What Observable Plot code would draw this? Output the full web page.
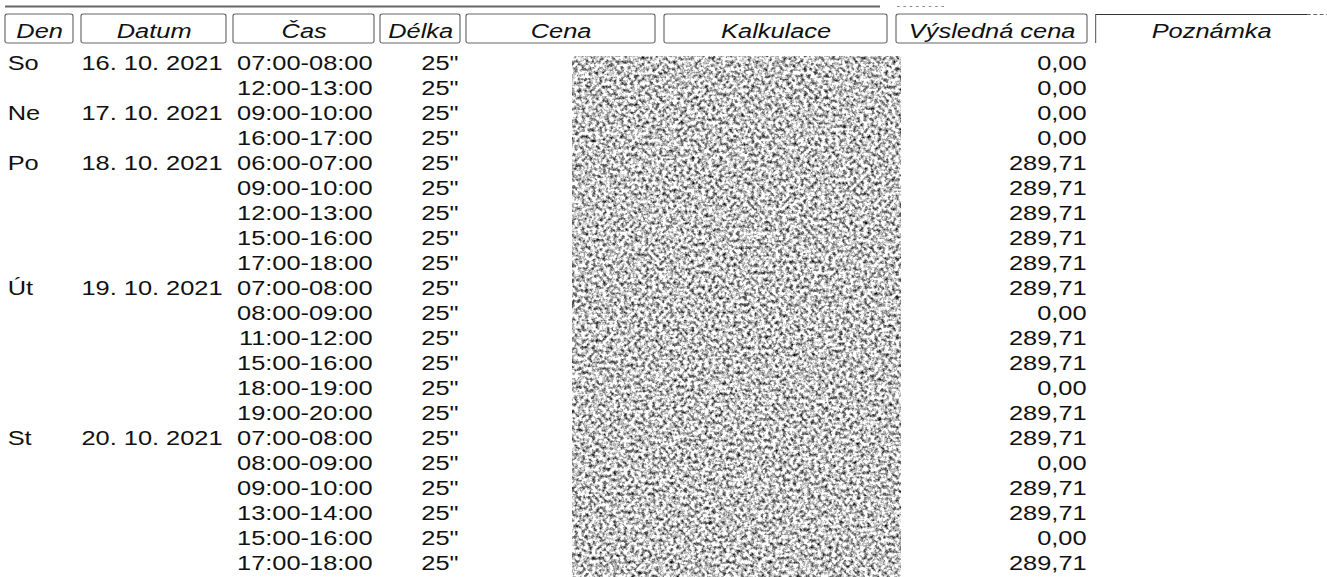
<!DOCTYPE html>
<html><head><meta charset="utf-8">
<script src="https://cdn.jsdelivr.net/npm/d3@7"></script>
<script src="https://cdn.jsdelivr.net/npm/@observablehq/plot@0.6"></script>
<style>html,body{margin:0;padding:0;background:#fff;overflow:hidden}</style>
</head><body><div id="chart"></div>
<script>
// ---- data ----
const headers = ["Den", "Datum", "Čas", "Délka", "Cena", "Kalkulace", "Výsledná cena", "Poznámka"];
const days = ["So", "Ne", "Po", "Út", "St"];
const dates = ["16. 10. 2021", "17. 10. 2021", "18. 10. 2021", "19. 10. 2021", "20. 10. 2021"];
const slotsPerDay = [2, 2, 5, 6, 6];
const times = ["07:00-08:00", "12:00-13:00", "09:00-10:00", "16:00-17:00",
  "06:00-07:00", "09:00-10:00", "12:00-13:00", "15:00-16:00", "17:00-18:00",
  "07:00-08:00", "08:00-09:00", "11:00-12:00", "15:00-16:00", "18:00-19:00", "19:00-20:00",
  "07:00-08:00", "08:00-09:00", "09:00-10:00", "13:00-14:00", "15:00-16:00", "17:00-18:00"];
const durations = ['25"', '25"', '25"', '25"', '25"', '25"', '25"', '25"', '25"', '25"', '25"',
  '25"', '25"', '25"', '25"', '25"', '25"', '25"', '25"', '25"', '25"'];
const finalPrices = ["0,00", "0,00", "0,00", "0,00",
  "289,71", "289,71", "289,71", "289,71", "289,71",
  "289,71", "0,00", "289,71", "289,71", "0,00", "289,71",
  "289,71", "0,00", "289,71", "289,71", "0,00", "289,71"];

// ---- layout (page units, horizontally stretched document) ----
const S = 1.27;                // horizontal stretch of the scanned document
const W = 1327 / S;
const colEdges = [[5, 73], [81, 226], [233, 374], [380, 460], [466, 655], [664, 887], [896, 1087], [1095, 1327]];
const FS = 20;
const HDR_Y = -1.26, BOX_TOP = -1.96, BOX_BOT = -0.8, TOP_RULE = -2.28;

const rows = [];
let r = 0;
days.forEach((d, i) => {
  for (let k = 0; k < slotsPerDay[i]; k++) {
    rows.push({row: r, day: k === 0 ? d : "", date: k === 0 ? dates[i] : "",
      time: times[r], dur: durations[r], price: finalPrices[r]});
    r++;
  }
});
const hdr = headers.map((h, i) => ({label: h, x1: colEdges[i][0], x2: colEdges[i][1]}));

const font = "Liberation Sans, Arial, Helvetica, sans-serif";
const body = {y: "row", fontSize: FS, fill: "#111", fontFamily: font};

const svg = Plot.plot({
  width: W, height: 577, margin: 0,
  x: {domain: [0, 1327], range: [0, W], axis: null},
  y: {domain: [0, 20], range: [63, 563], axis: null},
  style: {fontFamily: font, background: "white"},
  marks: [
    Plot.ruleY([TOP_RULE], {x1: 5, x2: 880, stroke: "#666", strokeWidth: 2}),
    Plot.ruleY([TOP_RULE], {x1: 897, x2: 945, stroke: "#888", strokeWidth: 1, strokeDasharray: "2,3"}),
    Plot.rect(hdr.slice(0, 7), {x1: "x1", x2: "x2", y1: () => BOX_TOP, y2: () => BOX_BOT,
      fill: "none", stroke: "#666", strokeWidth: 0.9, rx: 2}),
    Plot.ruleY([BOX_TOP], {x1: 1095, x2: 1307, stroke: "#333", strokeWidth: 1}),
    Plot.ruleY([BOX_TOP], {x1: 1307, x2: 1327, stroke: "#666", strokeWidth: 1, strokeDasharray: "3,2"}),
    Plot.ruleX([1095], {y1: BOX_TOP, y2: BOX_BOT, stroke: "#666", strokeWidth: 0.9}),
    Plot.text(hdr, {x: d => (d.x1 + d.x2) / 2, y: () => HDR_Y,
      text: "label", fontStyle: "italic", fontSize: FS, fill: "#111", fontFamily: font}),
    Plot.text(rows, {...body, x: () => 7, text: "day", textAnchor: "start"}),
    Plot.text(rows, {...body, x: () => 222, text: "date", textAnchor: "end"}),
    Plot.text(rows, {...body, x: () => 372, text: "time", textAnchor: "end"}),
    Plot.text(rows, {...body, x: () => 458, text: "dur", textAnchor: "end"}),
    Plot.text(rows, {...body, x: () => 1086, text: "price", textAnchor: "end"}),
    Plot.rect([0], {x1: () => 572, x2: () => 901, y1: () => -0.28, y2: () => 20.6, fill: "#999"})
  ]
});

svg.setAttribute("preserveAspectRatio", "none");
svg.style.width = "1327px";
svg.style.height = "577px";
svg.style.maxWidth = "none";

const sel = d3.select(svg);
const defs = sel.insert("defs", ":first-child");
const f = defs.append("filter").attr("id", "noise").attr("x", 0).attr("y", 0)
  .attr("width", "100%").attr("height", "100%").attr("color-interpolation-filters", "sRGB");
f.append("feTurbulence").attr("type", "fractalNoise").attr("baseFrequency", "0.36 0.28")
  .attr("numOctaves", 3).attr("seed", 7);
f.append("feColorMatrix").attr("type", "matrix")
  .attr("values", "2.0 0 0 0 -0.22  2.0 0 0 0 -0.22  2.0 0 0 0 -0.22  0 0 0 0 1");
f.append("feGaussianBlur").attr("stdDeviation", 0.4);
sel.selectAll("g[aria-label=rect]").filter((d, i, n) => n[i].querySelectorAll("rect").length === 1)
  .selectAll("rect").attr("filter", "url(#noise)");

document.getElementById("chart").appendChild(svg);
</script>
</body></html>
